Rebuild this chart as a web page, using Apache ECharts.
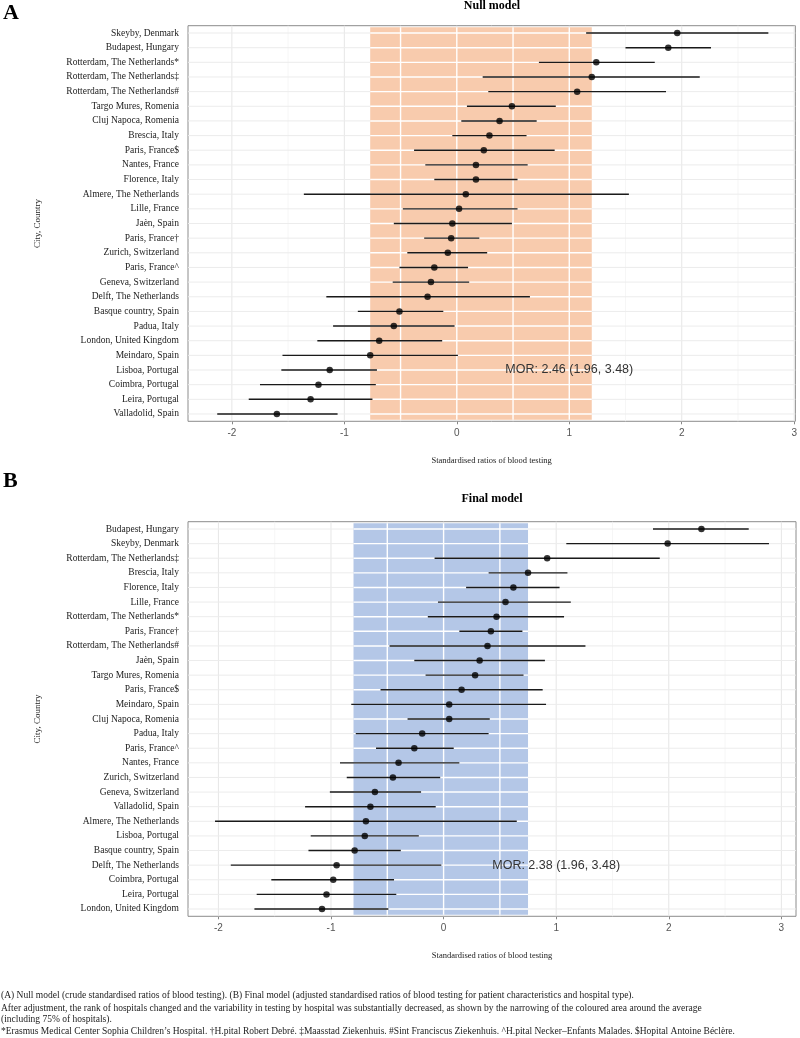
<!DOCTYPE html>
<html>
<head>
<meta charset="utf-8">
<script src="https://cdn.jsdelivr.net/npm/echarts@6/dist/echarts.min.js"></script>
<style>
  html, body { margin: 0; padding: 0; background: #fff; }
  #chart { width: 800px; height: 1038px; }
</style>
</head>
<body>
<div id="chart"></div>
<script>
// A: null model (crude ratios), sites from top to bottom
const nullSites = ['Skeyby, Denmark', 'Budapest, Hungary', 'Rotterdam, The Netherlands*', 'Rotterdam, The Netherlands‡',
  'Rotterdam, The Netherlands#', 'Targo Mures, Romenia', 'Cluj Napoca, Romenia', 'Brescia, Italy', 'Paris, France$',
  'Nantes, France', 'Florence, Italy', 'Almere, The Netherlands', 'Lille, France', 'Jaèn, Spain', 'Paris, France†',
  'Zurich, Switzerland', 'Paris, France^', 'Geneva, Switzerland', 'Delft, The Netherlands', 'Basque country, Spain',
  'Padua, Italy', 'London, United Kingdom', 'Meindaro, Spain', 'Lisboa, Portugal', 'Coimbra, Portugal',
  'Leira, Portugal', 'Valladolid, Spain'];
const nullEst = [1.96, 1.88, 1.24, 1.20, 1.07, 0.49, 0.38, 0.29, 0.24, 0.17, 0.17, 0.08, 0.02, -0.04, -0.05,
  -0.08, -0.20, -0.23, -0.26, -0.51, -0.56, -0.69, -0.77, -1.13, -1.23, -1.30, -1.60];
const nullLow = [1.15, 1.50, 0.73, 0.23, 0.28, 0.09, 0.04, -0.04, -0.38, -0.28, -0.20, -1.36, -0.48, -0.56, -0.29,
  -0.44, -0.51, -0.57, -1.16, -0.88, -1.10, -1.24, -1.55, -1.56, -1.75, -1.85, -2.13];
const nullHigh = [2.77, 2.26, 1.76, 2.16, 1.86, 0.88, 0.71, 0.62, 0.87, 0.63, 0.54, 1.53, 0.54, 0.49, 0.20,
  0.27, 0.10, 0.11, 0.65, -0.12, -0.02, -0.13, 0.01, -0.71, -0.72, -0.75, -1.06];
const nullBand = [-0.77, 1.20];
const nullMor = 'MOR: 2.46 (1.96, 3.48)';

// B: final model (adjusted ratios)
const finalSites = ['Budapest, Hungary', 'Skeyby, Denmark', 'Rotterdam, The Netherlands‡', 'Brescia, Italy',
  'Florence, Italy', 'Lille, France', 'Rotterdam, The Netherlands*', 'Paris, France†', 'Rotterdam, The Netherlands#',
  'Jaèn, Spain', 'Targo Mures, Romenia', 'Paris, France$', 'Meindaro, Spain', 'Cluj Napoca, Romenia', 'Padua, Italy',
  'Paris, France^', 'Nantes, France', 'Zurich, Switzerland', 'Geneva, Switzerland', 'Valladolid, Spain',
  'Almere, The Netherlands', 'Lisboa, Portugal', 'Basque country, Spain', 'Delft, The Netherlands',
  'Coimbra, Portugal', 'Leira, Portugal', 'London, United Kingdom'];
const finalEst = [2.29, 1.99, 0.92, 0.75, 0.62, 0.55, 0.47, 0.42, 0.39, 0.32, 0.28, 0.16, 0.05, 0.05, -0.19,
  -0.26, -0.40, -0.45, -0.61, -0.65, -0.69, -0.70, -0.79, -0.95, -0.98, -1.04, -1.08];
const finalLow = [1.86, 1.09, -0.08, 0.40, 0.20, -0.05, -0.14, 0.14, -0.48, -0.26, -0.16, -0.56, -0.82, -0.32,
  -0.78, -0.60, -0.92, -0.86, -1.01, -1.23, -2.03, -1.18, -1.20, -1.89, -1.53, -1.66, -1.68];
const finalHigh = [2.71, 2.89, 1.92, 1.10, 1.03, 1.13, 1.07, 0.70, 1.26, 0.90, 0.71, 0.88, 0.91, 0.41, 0.40,
  0.09, 0.14, -0.03, -0.20, -0.07, 0.65, -0.22, -0.38, -0.02, -0.44, -0.42, -0.49];
const finalBand = [-0.80, 0.75];
const finalMor = 'MOR: 2.38 (1.96, 3.48)';

const xTicks = [-2, -1, 0, 1, 2, 3];
const xMinor = [-1.5, -0.5, 0.5, 1.5, 2.5];
const morX = 1.0;
const morRow = 23;

const serif = '"Liberation Serif", "Times New Roman", serif';
const sans = '"Liberation Sans", Arial, sans-serif';

const chart = echarts.init(document.getElementById('chart'));

// grid lines, coloured band and the white lines on top of it
function backgroundRender(sites, band, fill) {
  return function (params, api) {
    const cs = params.coordSys;
    const top = cs.y, bottom = cs.y + cs.height;
    const left = cs.x, right = cs.x + cs.width;
    const bx0 = api.coord([band[0], 0])[0];
    const bx1 = api.coord([band[1], 0])[0];
    const kids = [];
    const line = (x1, y1, x2, y2, color, w) => kids.push({
      type: 'line', shape: { x1, y1, x2, y2 }, style: { stroke: color, lineWidth: w }
    });
    xMinor.forEach(v => { const x = api.coord([v, 0])[0]; line(x, top, x, bottom, '#f2f2f2', 0.7); });
    xTicks.forEach(v => { const x = api.coord([v, 0])[0]; line(x, top, x, bottom, '#e6e6e6', 1); });
    sites.forEach((s, i) => { const y = api.coord([0, i])[1]; line(left, y, right, y, '#ececec', 1); });
    kids.push({ type: 'rect', shape: { x: bx0, y: top + 1.5, width: bx1 - bx0, height: cs.height - 3 }, style: { fill } });
    xMinor.concat(xTicks).forEach(v => {
      if (v > band[0] && v < band[1]) { const x = api.coord([v, 0])[0]; line(x, top + 1.5, x, bottom - 1.5, '#fff', 1.4); }
    });
    sites.forEach((s, i) => { const y = api.coord([0, i])[1]; line(bx0, y, bx1, y, '#fff', 1.4); });
    return { type: 'group', children: kids };
  };
}

function panelSeries(idx, sites, est, low, high, band, fill, mor) {
  return [
    {
      type: 'custom', xAxisIndex: idx, yAxisIndex: idx, z: 1, silent: true,
      data: [[0, 0]],
      renderItem: backgroundRender(sites, band, fill)
    },
    {
      type: 'custom', xAxisIndex: idx, yAxisIndex: idx, z: 2, silent: true,
      encode: { x: [0, 1], y: 2 },
      data: sites.map((s, i) => [low[i], high[i], i]),
      renderItem(params, api) {
        const p0 = api.coord([api.value(0), api.value(2)]);
        const p1 = api.coord([api.value(1), api.value(2)]);
        return { type: 'line', shape: { x1: p0[0], y1: p0[1], x2: p1[0], y2: p1[1] }, style: { stroke: '#1a1a1a', lineWidth: 1.4 } };
      }
    },
    {
      type: 'scatter', xAxisIndex: idx, yAxisIndex: idx, z: 3, silent: true,
      symbolSize: 6.5, itemStyle: { color: '#000' },
      data: sites.map((s, i) => [est[i], i])
    },
    {
      type: 'custom', xAxisIndex: idx, yAxisIndex: idx, z: 4, silent: true,
      data: [[morX, morRow]],
      renderItem(params, api) {
        const p = api.coord([api.value(0), api.value(1)]);
        return { type: 'text', x: p[0], y: p[1], style: { text: mor, font: '12.5px ' + sans, fill: '#333', textAlign: 'center', textVerticalAlign: 'middle' } };
      }
    }
  ];
}

function xAxis(idx, min, max) {
  return {
    type: 'value', gridIndex: idx, min, max,
    axisLine: { show: false },
    axisTick: { show: true, customValues: xTicks, length: 3, lineStyle: { color: '#888' } },
    axisLabel: { customValues: xTicks, color: '#555', fontSize: 10, fontFamily: sans, margin: 7 },
    splitLine: { show: false },
    name: 'Standardised ratios of blood testing',
    nameLocation: 'middle', nameGap: 35,
    nameTextStyle: { fontFamily: serif, fontSize: 8.5, color: '#222' }
  };
}

function yAxis(idx, sites) {
  return {
    type: 'category', gridIndex: idx, data: sites, inverse: true,
    axisLine: { show: false },
    axisTick: { show: true, alignWithLabel: true, length: 3, lineStyle: { color: '#888' } },
    axisLabel: { fontFamily: serif, fontSize: 9.5, color: '#222', margin: 9 },
    splitLine: { show: false },
    name: 'City, Country', nameLocation: 'middle', nameGap: 146, nameRotate: 90,
    nameTextStyle: { fontFamily: serif, fontSize: 9, color: '#222' }
  };
}

const notes = [
  '(A) Null model (crude standardised ratios of blood testing). (B) Final model (adjusted standardised ratios of blood testing for patient characteristics and hospital type).',
  'After adjustment, the rank of hospitals changed and the variability in testing by hospital was substantially decreased, as shown by the narrowing of the coloured area around the average',
  '(including 75% of hospitals).',
  '*Erasmus Medical Center Sophia Children’s Hospital. †H.pital Robert Debré. ‡Maasstad Ziekenhuis. #Sint Franciscus Ziekenhuis. ^H.pital Necker–Enfants Malades. $Hopital Antoine Béclère.'
];
const noteY = [990, 1003, 1014, 1026];

chart.setOption({
  animation: false,
  backgroundColor: '#fff',
  grid: [
    { left: 188, width: 608, top: 25.7, height: 395.6, show: true, borderColor: '#8c8c8c', borderWidth: 1, backgroundColor: 'transparent' },
    { left: 188, width: 608, top: 521.7, height: 394.6, show: true, borderColor: '#8c8c8c', borderWidth: 1, backgroundColor: 'transparent' }
  ],
  xAxis: [xAxis(0, -2.39, 3.01), xAxis(1, -2.27, 3.13)],
  yAxis: [yAxis(0, nullSites), yAxis(1, finalSites)],
  series: [
    ...panelSeries(0, nullSites, nullEst, nullLow, nullHigh, nullBand, '#f8cbad', nullMor),
    ...panelSeries(1, finalSites, finalEst, finalLow, finalHigh, finalBand, '#b4c7e7', finalMor)
  ],
  graphic: [
    { type: 'text', x: 3, y: 2, style: { text: 'A', font: 'bold 22px ' + serif, fill: '#000' } },
    { type: 'text', x: 3, y: 470, style: { text: 'B', font: 'bold 22px ' + serif, fill: '#000' } },
    { type: 'text', x: 492, y: 0, style: { text: 'Null model', font: 'bold 12px ' + serif, fill: '#000', textAlign: 'center' } },
    { type: 'text', x: 492, y: 493, style: { text: 'Final model', font: 'bold 12px ' + serif, fill: '#000', textAlign: 'center' } },
    ...notes.map((t, i) => ({ type: 'text', x: 1, y: noteY[i], style: { text: t, font: '9.5px ' + serif, fill: '#222' } }))
  ]
});
</script>
</body>
</html>
